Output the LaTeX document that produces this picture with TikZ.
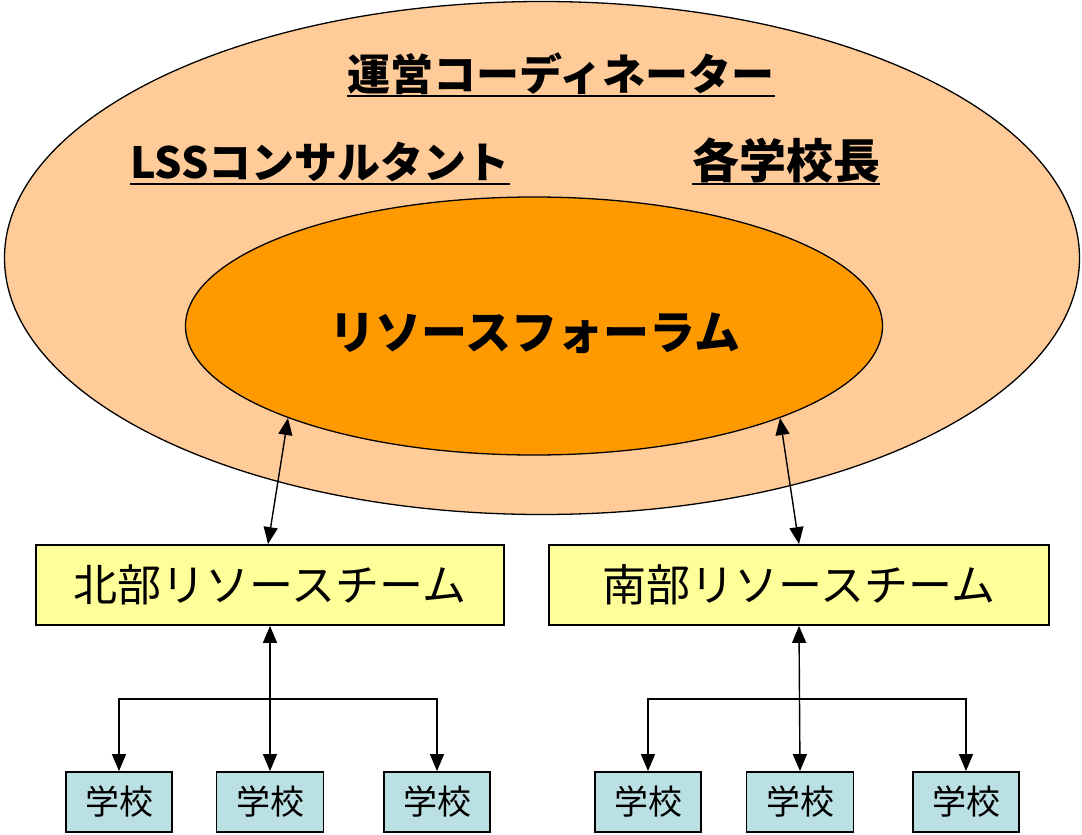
\documentclass[tikz,border=0pt]{standalone}
\usepackage{fontspec}
\setmainfont{Noto Sans CJK JP}
\usetikzlibrary{shapes.geometric,arrows.meta,calc}
\definecolor{outerfill}{HTML}{FFCC99}
\definecolor{innerfill}{HTML}{FF9900}
\definecolor{teamfill}{HTML}{FFFF99}
\definecolor{schoolfill}{HTML}{BBE0E3}
\begin{document}
\begin{tikzpicture}[x=1pt,y=-1pt,
  ell/.style={ellipse,draw=black,line width=1.3pt,inner sep=0pt},
  headtxt/.style={font=\fontsize{43}{46}\selectfont\bfseries,inner sep=0pt,anchor=base},
  uline/.style={line width=2.2pt},
  team/.style={draw=black,line width=1.8pt,fill=teamfill,minimum height=80pt,font=\fontsize{44}{46}\selectfont},
  school/.style={draw=black,line width=1.8pt,fill=schoolfill,minimum height=60pt,font=\fontsize{34}{36}\selectfont},
  link/.style={line width=1.4pt,{Triangle[length=17pt,width=14pt]}-{Triangle[length=17pt,width=14pt]}},
  treearrow/.style={line width=1.4pt,-{Triangle[length=17pt,width=14pt]}}]
\useasboundingbox (0,0) rectangle (1082,835);
% ellipses
\node[ell,fill=outerfill,minimum width=1075pt,minimum height=513pt] (outer) at (542,258) {};
\node[ell,fill=innerfill,minimum width=697pt,minimum height=258pt] (inner) at (534,326) {};
% texts
\node[headtxt] (coord) at (561,90) {運営コーディネーター};
\draw[uline] ($(coord.base west)+(0,6)$) -- ($(coord.base east)+(0,6)$);
\node[headtxt] (lss) at (320,178) {LSSコンサルタント};
\draw[uline] ($(lss.base west)+(0,6)$) -- ($(lss.base east)+(0,6)$);
\node[headtxt,font=\fontsize{47}{49}\selectfont\bfseries] (heads) at (786,178) {各学校長};
\draw[uline] ($(heads.base west)+(0,6)$) -- ($(heads.base east)+(0,6)$);
\node[font=\fontsize{46}{48}\selectfont\bfseries,inner sep=0pt] (forum) at (535,333) {リソースフォーラム};
% teams
\node[team,minimum width=468pt] (north) at (270,585) {北部リソースチーム};
\node[team,minimum width=500pt] (south) at (799,585) {南部リソースチーム};
% link arrows
\coordinate (na) at (288,418);
\coordinate (sa) at (780,418);
\draw[link] (na) -- ($(north.north)+(-2,0)$);
\draw[link] (sa) -- (south.north);
% schools
\node[school,minimum width=106pt] (s1) at (119,802) {学校};
\node[school,minimum width=107pt] (s2) at (270,802) {学校};
\node[school,minimum width=106pt] (s3) at (437,802) {学校};
\node[school,minimum width=106pt] (s4) at (648,802) {学校};
\node[school,minimum width=107pt] (s5) at (800,802) {学校};
\node[school,minimum width=106pt] (s6) at (966,802) {学校};
% trees
\draw[link] (north.south) -- (s2.north);
\draw[link] (south.south) -- (s5.north);
\coordinate (nb) at (270,699);
\coordinate (sb) at (800,699);
\draw[treearrow] (nb) -| (s1.north);
\draw[treearrow] (nb) -| (s3.north);
\draw[treearrow] (sb) -| (s4.north);
\draw[treearrow] (sb) -| (s6.north);
\end{tikzpicture}
\end{document}
